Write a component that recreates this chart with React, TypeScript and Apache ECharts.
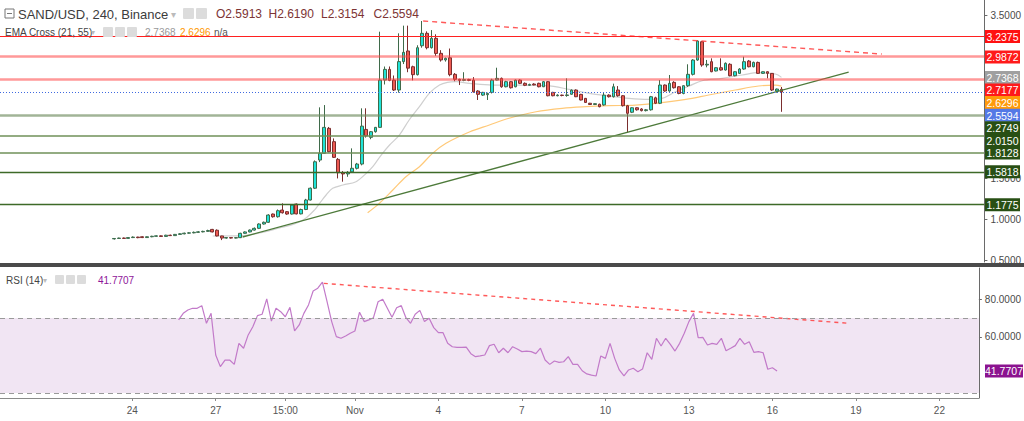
import React, { useEffect, useRef } from 'react';
import * as echarts from 'echarts';

const FONT = '"Liberation Sans", Arial, sans-serif';

// 4h categories from Oct 19 08:00 to Nov 23 08:00
const START = Date.UTC(2021, 9, 19, 8);
const N_CAT = 211;
const categories: string[] = [];
for (let i = 0; i < N_CAT; i++) {
  const d = new Date(START + i * 4 * 3600e3);
  categories.push(`${d.getUTCMonth() + 1}-${d.getUTCDate()} ${String(d.getUTCHours()).padStart(2, '0')}:00`);
}

const tickIndex = [28, 46, 61, 76, 94, 112, 130, 148, 166, 184, 202];
const tickLabels = ['24', '27', '15:00', 'Nov', '4', '7', '10', '13', '16', '19', '22'];

const priceTicks = [0.5, 1, 1.5, 2, 2.5, 3, 3.5];
const priceTickLabels = [0.5, 1, 1.5, 3.5];
const rsiTicks = [60, 80];

const CANDLE_START = 24;
// [open, close, low, high]
const candles: number[][] = [
  [0.760,0.765,0.752,0.770],[0.765,0.770,0.760,0.775],[0.770,0.766,0.760,0.776],[0.766,0.776,0.762,0.780],
  [0.776,0.782,0.770,0.790],[0.782,0.775,0.768,0.786],[0.786,0.776,0.770,0.792],[0.776,0.786,0.772,0.790],
  [0.786,0.792,0.780,0.798],[0.792,0.797,0.786,0.803],[0.797,0.790,0.785,0.802],[0.790,0.805,0.786,0.810],
  [0.805,0.800,0.795,0.812],[0.800,0.815,0.796,0.820],[0.815,0.822,0.810,0.830],[0.822,0.830,0.816,0.836],
  [0.830,0.834,0.824,0.842],[0.834,0.840,0.828,0.850],[0.840,0.846,0.834,0.856],[0.846,0.852,0.840,0.860],
  [0.852,0.862,0.846,0.872],[0.876,0.845,0.840,0.882],[0.866,0.796,0.790,0.876],[0.796,0.770,0.745,0.798],
  [0.770,0.776,0.762,0.782],[0.776,0.770,0.764,0.780],[0.770,0.775,0.765,0.782],[0.775,0.828,0.770,0.835],
  [0.828,0.845,0.822,0.852],[0.845,0.868,0.840,0.875],[0.868,0.889,0.862,0.900],[0.889,0.942,0.880,0.950],
  [0.942,0.963,0.935,0.972],[0.963,1.052,0.955,1.062],[1.064,1.031,1.020,1.070],[1.031,1.105,1.020,1.120],
  [1.113,1.080,1.070,1.195],[1.093,1.064,1.055,1.100],[1.064,1.174,1.058,1.180],[1.186,1.066,1.060,1.192],
  [1.066,1.120,1.060,1.130],[1.120,1.236,1.112,1.250],[1.236,1.380,1.230,1.390],[1.380,1.704,1.370,1.720],
  [1.725,1.807,1.700,2.370],[1.807,2.125,1.800,2.398],[2.113,1.827,1.820,2.130],[1.950,1.758,1.750,1.990],
  [1.733,1.570,1.500,1.750],[1.570,1.555,1.460,1.590],[1.555,1.575,1.520,1.590],[1.580,1.624,1.570,1.868],
  [1.624,1.676,1.610,1.690],[1.676,2.140,1.660,2.358],[2.100,2.020,2.000,2.358],[2.003,2.072,1.980,2.080],
  [2.072,2.125,2.060,2.130],[2.125,2.704,2.120,3.296],[2.704,2.835,2.650,2.870],[2.835,2.700,2.690,2.870],
  [2.704,2.582,2.570,2.760],[2.582,2.930,2.550,3.276],[2.930,3.043,2.900,3.370],[3.060,2.850,2.800,3.370],
  [2.867,2.770,2.700,2.880],[2.770,3.100,2.760,3.130],[3.124,3.276,3.100,3.427],[3.276,3.100,3.080,3.300],
  [3.100,3.215,3.090,3.316],[3.215,3.030,3.000,3.264],[3.031,2.950,2.930,3.070],[2.950,2.970,2.930,2.980],
  [2.977,2.770,2.750,3.090],[2.774,2.713,2.690,2.790],[2.713,2.700,2.643,2.720],[2.700,2.710,2.690,2.800],
  [2.710,2.700,2.690,2.720],[2.704,2.560,2.550,2.740],[2.570,2.529,2.460,2.580],[2.520,2.553,2.510,2.560],
  [2.525,2.540,2.460,2.550],[2.553,2.704,2.540,2.720],[2.704,2.725,2.700,2.855],[2.725,2.622,2.610,2.735],
  [2.622,2.684,2.615,2.695],[2.684,2.610,2.600,2.690],[2.622,2.704,2.615,2.710],[2.704,2.664,2.655,2.715],
  [2.664,2.640,2.630,2.675],[2.640,2.650,2.635,2.660],[2.655,2.645,2.640,2.665],[2.664,2.622,2.615,2.672],
  [2.622,2.684,2.618,2.692],[2.684,2.512,2.505,2.690],[2.553,2.512,2.505,2.560],[2.512,2.520,2.505,2.530],
  [2.520,2.515,2.505,2.525],[2.515,2.522,2.500,2.725],[2.530,2.580,2.525,2.590],[2.582,2.500,2.495,2.590],
  [2.529,2.460,2.455,2.535],[2.480,2.430,2.425,2.485],[2.420,2.405,2.400,2.425],[2.405,2.415,2.398,2.420],
  [2.408,2.378,2.370,2.415],[2.400,2.520,2.390,2.550],[2.520,2.500,2.490,2.530],[2.500,2.622,2.490,2.660],
  [2.582,2.512,2.500,2.630],[2.512,2.390,2.380,2.520],[2.390,2.297,2.064,2.400],[2.310,2.365,2.300,2.370],
  [2.365,2.340,2.330,2.370],[2.350,2.330,2.320,2.360],[2.330,2.340,2.320,2.350],[2.340,2.500,2.330,2.510],
  [2.487,2.420,2.410,2.500],[2.420,2.643,2.410,2.704],[2.643,2.570,2.560,2.650],[2.570,2.664,2.560,2.766],
  [2.676,2.610,2.600,2.690],[2.622,2.540,2.530,2.630],[2.540,2.635,2.530,2.640],[2.635,2.774,2.620,2.897],
  [2.774,2.949,2.760,2.960],[2.949,3.182,2.940,3.190],[3.173,2.888,2.867,3.180],[2.888,2.897,2.860,2.950],
  [2.929,2.806,2.800,2.970],[2.815,2.855,2.810,2.860],[2.855,2.827,2.820,2.970],[2.827,2.909,2.820,2.920],
  [2.897,2.757,2.750,2.910],[2.757,2.806,2.750,2.810],[2.786,2.839,2.780,2.850],[2.839,2.929,2.830,2.990],
  [2.937,2.867,2.860,2.950],[2.867,2.920,2.860,2.930],[2.920,2.786,2.780,2.930],[2.786,2.806,2.780,2.810],
  [2.806,2.786,2.725,2.810],[2.786,2.582,2.570,2.790],[2.570,2.594,2.550,2.600],[2.5913,2.5594,2.3154,2.6190],
];

const RSI_START = 38;
const rsi: number[] = [
  69.0,72.5,74.3,75.2,75.2,76.6,67.2,72.5,50.3,44.1,47.6,47.6,45.3,56.5,53.9,61.0,65.4,71.3,72.0,80.2,
  68.4,75.2,73.4,70.7,75.7,63.1,66.3,72.5,77.0,84.4,85.9,89.1,78.7,68.1,60.1,59.2,60.4,61.9,63.1,73.1,
  68.1,69.0,70.2,78.7,80.0,75.2,70.4,75.5,76.6,70.2,67.2,72.0,74.1,68.1,69.9,64.9,62.2,62.2,56.5,54.7,
  54.4,54.4,54.5,51.0,49.4,49.8,50.3,55.3,56.0,51.5,53.9,51.5,54.7,53.5,52.1,52.4,52.1,51.0,53.9,47.6,
  45.3,47.1,46.4,46.7,49.4,45.3,45.3,41.9,40.2,39.6,39.1,49.8,48.5,56.5,48.5,42.3,39.1,42.3,43.2,41.4,
  42.8,51.5,48.0,59.2,55.1,59.2,56.0,52.4,56.5,61.9,68.1,72.5,59.5,59.7,55.6,56.5,56.0,59.2,52.6,53.9,
  55.3,59.2,56.0,57.4,51.7,52.1,51.5,42.7,43.5,41.7707,
];

// EMA(21) and EMA(55) read as [bar index, value]
const emaFast: number[][] = [
  [45.1,0.795],[51.5,0.799],[55.1,0.832],[59.4,0.893],[62.6,0.942],[64.8,1.003],[66.9,1.113],[68.0,1.195],
  [69.4,1.297],[70.8,1.379],[73.0,1.419],[75.8,1.460],[78.0,1.562],[79.4,1.643],[81.2,1.786],[83.0,1.909],
  [85.1,2.031],[87.2,2.215],[89.4,2.378],[91.5,2.542],[93.7,2.643],[95.4,2.676],[97.2,2.684],[100.1,2.664],
  [105.0,2.643],[110.8,2.643],[116.6,2.635],[121.5,2.591],[125.8,2.542],[130.0,2.509],[134.3,2.480],
  [138.6,2.468],[141.4,2.480],[144.3,2.561],[147.2,2.631],[150.0,2.696],[154.3,2.725],[158.6,2.766],
  [162.1,2.794],[165.7,2.778],[167,2.7368],
];
const emaSlow: number[][] = [
  [78.3,1.080],[80.8,1.195],[83.7,1.358],[86.5,1.521],[89.4,1.643],[92.2,1.807],[95.1,1.930],[100.1,2.068],
  [104.4,2.154],[108.6,2.236],[114.4,2.316],[120.0,2.358],[125.1,2.378],[130.0,2.390],[135.7,2.398],
  [140.0,2.419],[146.5,2.468],[151.4,2.521],[157.1,2.582],[162.1,2.631],[165.7,2.643],[167,2.6296],
];

const trendUp: number[][] = [[51.5, 0.783], [181.4, 2.802]];
const trendDown: number[][] = [[90.2, 3.4266], [188.5, 3.0226]];
const rsiTrend: number[][] = [[69.3, 88.5], [182.5, 67.2]];

const levelPrices = [3.2375, 2.9872, 2.7177, 2.2749, 2.0150, 1.8128, 1.5818, 1.1775];
const levelStyles = [
  { color: '#ff2020', width: 1.2, type: 'solid' },
  { color: 'rgba(255,70,70,0.55)', width: 2.5, type: 'solid' },
  { color: 'rgba(255,70,70,0.55)', width: 2.5, type: 'solid' },
  { color: 'rgba(110,140,95,0.65)', width: 2.5, type: 'solid' },
  { color: '#6f9159', width: 1.5, type: 'solid' },
  { color: '#6f9159', width: 1.5, type: 'solid' },
  { color: '#3d6a28', width: 1.3, type: 'solid' },
  { color: '#3d6a28', width: 1.3, type: 'solid' },
];
const levelLabelColors = ['#ff1111', '#ff1a1a', '#ff1a1a', '#284f14', '#284f14', '#284f14', '#284f14', '#284f14'];

const lastPrice = 2.5594;
const emaFastLast = 2.7368;
const emaSlowLast = 2.6296;
const rsiLast = 41.7707;
const ohlcTexts = ['O2.5913', 'H2.6190', 'L2.3154', 'C2.5594'];

export default function App() {
  const ref = useRef<HTMLDivElement>(null);
  useEffect(() => {
    const chart = echarts.init(ref.current!, null, { renderer: 'svg' });
    const candleData = categories.map((_, i) => {
      const k = i - CANDLE_START;
      return k >= 0 && k < candles.length ? candles[k] : '-';
    });
    const rsiData = categories.map((_, i) => {
      const k = i - RSI_START;
      return k >= 0 && k < rsi.length ? rsi[k] : '-';
    });

    const axisLabelStyle = { color: '#4a4a4a', fontSize: 10, fontFamily: FONT };

    chart.setOption({
      animation: false,
      backgroundColor: '#ffffff',
      grid: [
        { left: 0, right: 38, top: 0, height: 262 },
        { left: 0, right: 38, top: 268, height: 130 },
      ],
      xAxis: [
        { type: 'category', gridIndex: 0, data: categories, boundaryGap: true,
          axisLine: { show: false }, axisTick: { show: false }, axisLabel: { show: false }, splitLine: { show: false } },
        { type: 'value', gridIndex: 0, min: -0.5, max: N_CAT - 0.5, show: false },
        { type: 'category', gridIndex: 1, data: categories, boundaryGap: true,
          axisLine: { show: true, onZero: false, lineStyle: { color: '#8a8a8a', width: 1 } },
          axisTick: { show: true, alignWithLabel: true, length: 3, lineStyle: { color: '#8a8a8a' },
            interval: (idx: number) => tickIndex.includes(idx) },
          axisLabel: { ...axisLabelStyle, color: '#555', margin: 7,
            interval: (idx: number) => tickIndex.includes(idx),
            formatter: (_v: string, idx: number) => {
              const k = tickIndex.indexOf(idx);
              return k >= 0 ? tickLabels[k] : '';
            } },
          splitLine: { show: false } },
        { type: 'value', gridIndex: 1, min: -0.5, max: N_CAT - 0.5, show: false },
      ],
      yAxis: [
        { type: 'value', gridIndex: 0, position: 'right', min: 0.477, max: 3.684,
          axisLine: { show: true, onZero: false, lineStyle: { color: '#6a6a6a' } },
          axisTick: { show: true, length: 3, customValues: priceTicks, lineStyle: { color: '#6a6a6a' } },
          axisLabel: { ...axisLabelStyle, margin: 6, customValues: priceTickLabels,
            formatter: (v: number) => v.toFixed(4) },
          splitLine: { show: false } },
        { type: 'value', gridIndex: 1, position: 'right', min: 27.36, max: 96.69,
          axisLine: { show: true, onZero: false, lineStyle: { color: '#6a6a6a' } },
          axisTick: { show: true, length: 3, customValues: rsiTicks, lineStyle: { color: '#6a6a6a' } },
          axisLabel: { ...axisLabelStyle, margin: 6, customValues: rsiTicks,
            formatter: (v: number) => v.toFixed(4) },
          splitLine: { show: false } },
      ],
      series: [
        {
          type: 'candlestick', xAxisIndex: 0, yAxisIndex: 0, data: candleData, barWidth: '72%',
          itemStyle: { color: '#1fe3d8', color0: '#ee5a52', borderColor: '#3f6a4a', borderColor0: '#7a2e2e', borderWidth: 1 },
          markLine: {
            silent: true, symbol: 'none', label: { show: false },
            data: [
              ...levelPrices.map((p, k) => ({ yAxis: p, lineStyle: levelStyles[k] })),
              { yAxis: lastPrice, lineStyle: { color: '#3f6ae0', width: 1, type: [1, 2] } },
            ],
          },
          z: 3,
        },
        { type: 'line', xAxisIndex: 1, yAxisIndex: 0, data: emaFast, smooth: 0.35, symbol: 'none',
          lineStyle: { color: '#cfcfcf', width: 1.2 }, z: 2 },
        { type: 'line', xAxisIndex: 1, yAxisIndex: 0, data: emaSlow, smooth: 0.35, symbol: 'none',
          lineStyle: { color: '#ffc978', width: 1.2 }, z: 2 },
        { type: 'line', xAxisIndex: 1, yAxisIndex: 0, data: trendUp, symbol: 'none',
          lineStyle: { color: '#4d7a3a', width: 1.3 }, z: 4 },
        { type: 'line', xAxisIndex: 1, yAxisIndex: 0, data: trendDown, symbol: 'none',
          lineStyle: { color: 'rgba(255,60,60,0.85)', width: 1.4, type: [5, 4] }, z: 4 },
        {
          type: 'line', xAxisIndex: 2, yAxisIndex: 1, data: rsiData, symbol: 'none',
          lineStyle: { color: '#c27ac9', width: 1.2 }, z: 3,
          markArea: { silent: true, itemStyle: { color: '#f1e5f3' }, data: [[{ yAxis: 30 }, { yAxis: 70 }]] },
          markLine: { silent: true, symbol: 'none', label: { show: false },
            lineStyle: { color: '#9a9a9a', width: 1, type: [5, 4] },
            data: [{ yAxis: 70 }, { yAxis: 30 }] },
        },
        { type: 'line', xAxisIndex: 3, yAxisIndex: 1, data: rsiTrend, symbol: 'none',
          lineStyle: { color: 'rgba(255,60,60,0.85)', width: 1.4, type: [4, 4] }, z: 4 },
      ],
    });

    // right-side price labels, stacked so they do not overlap
    const labelList = [
      ...levelPrices.map((p, k) => ({ v: p, bg: levelLabelColors[k] })),
      { v: emaFastLast, bg: '#a0a0a0' },
      { v: emaSlowLast, bg: '#ff9a0a' },
      { v: lastPrice, bg: '#5479e6' },
    ].sort((a, b) => b.v - a.v);
    const H = 12.6;
    let prev = -100;
    const boxes: any[] = [];
    labelList.forEach((l) => {
      const ideal = chart.convertToPixel({ yAxisIndex: 0 }, l.v) as number;
      const y = Math.max(ideal, prev + H);
      prev = y;
      boxes.push({ type: 'rect', z: 50, shape: { x: 985, y: y - 6.5, width: 35, height: 13 }, style: { fill: l.bg } });
      boxes.push({ type: 'text', z: 51, x: 1002.5, y: y + 0.5,
        style: { text: l.v.toFixed(4), fill: '#ffffff', font: `10.5px ${FONT}`, textAlign: 'center', textVerticalAlign: 'middle' } });
    });
    const ry = chart.convertToPixel({ yAxisIndex: 1 }, rsiLast) as number;
    boxes.push({ type: 'rect', z: 50, shape: { x: 985, y: ry - 6.5, width: 38, height: 13 }, style: { fill: '#8b138f' } });
    boxes.push({ type: 'text', z: 51, x: 1004, y: ry + 0.5,
      style: { text: rsiLast.toFixed(4), fill: '#ffffff', font: `10.5px ${FONT}`, textAlign: 'center', textVerticalAlign: 'middle' } });

    const icon = (x: number, y: number, s: number) => ({ type: 'rect', z: 60, shape: { x, y, width: s, height: s, r: 1 }, style: { fill: '#dcdcdc' } });
    const txt = (x: number, y: number, text: string, fill: string, size: number) => ({
      type: 'text', z: 60, x, y, style: { text, fill, font: `${size}px ${FONT}`, textVerticalAlign: 'middle' } });

    const header: any[] = [
      { type: 'rect', z: 60, shape: { x: 5, y: 9, width: 9, height: 9 }, style: { fill: 'none', stroke: '#777', lineWidth: 1 } },
      { type: 'line', z: 60, shape: { x1: 7, y1: 13.5, x2: 12, y2: 13.5 }, style: { stroke: '#777', lineWidth: 1 } },
      txt(18, 14, 'SAND/USD, 240, Binance', '#3c3c3c', 13),
      txt(171, 14, '▾', '#bbbbbb', 10),
      icon(183, 8, 11), icon(196, 8, 11),
      ...ohlcTexts.map((t, k) => txt(216 + k * 52.5, 14, t, '#7d3434', 12)),
      txt(5, 32, 'EMA Cross (21, 55)', '#444444', 10),
      txt(91, 32, '▾', '#bbbbbb', 8),
      icon(103, 27, 10), icon(115, 27, 10), icon(127, 27, 10),
      txt(145, 32, emaFastLast.toFixed(4), '#999999', 10),
      txt(180, 32, emaSlowLast.toFixed(4), '#ff9800', 10),
      txt(214, 32, 'n/a', '#555555', 10),
      txt(6, 280, 'RSI (14)', '#444444', 10),
      txt(43, 280, '▾', '#bbbbbb', 8),
      icon(55, 275, 9), icon(66, 275, 9), icon(77, 275, 9),
      txt(98, 280, rsiLast.toFixed(4), '#8e1599', 10),
      { type: 'rect', z: 70, shape: { x: 0, y: 263, width: 1024, height: 4 }, style: { fill: '#4a4a4a' } },
    ];

    chart.setOption({ graphic: { elements: [...boxes, ...header] } });
    return () => chart.dispose();
  }, []);
  return <div ref={ref} style={{ position: 'fixed', left: 0, top: 0, width: 1024, height: 421, background: '#fff' }} />;
}
